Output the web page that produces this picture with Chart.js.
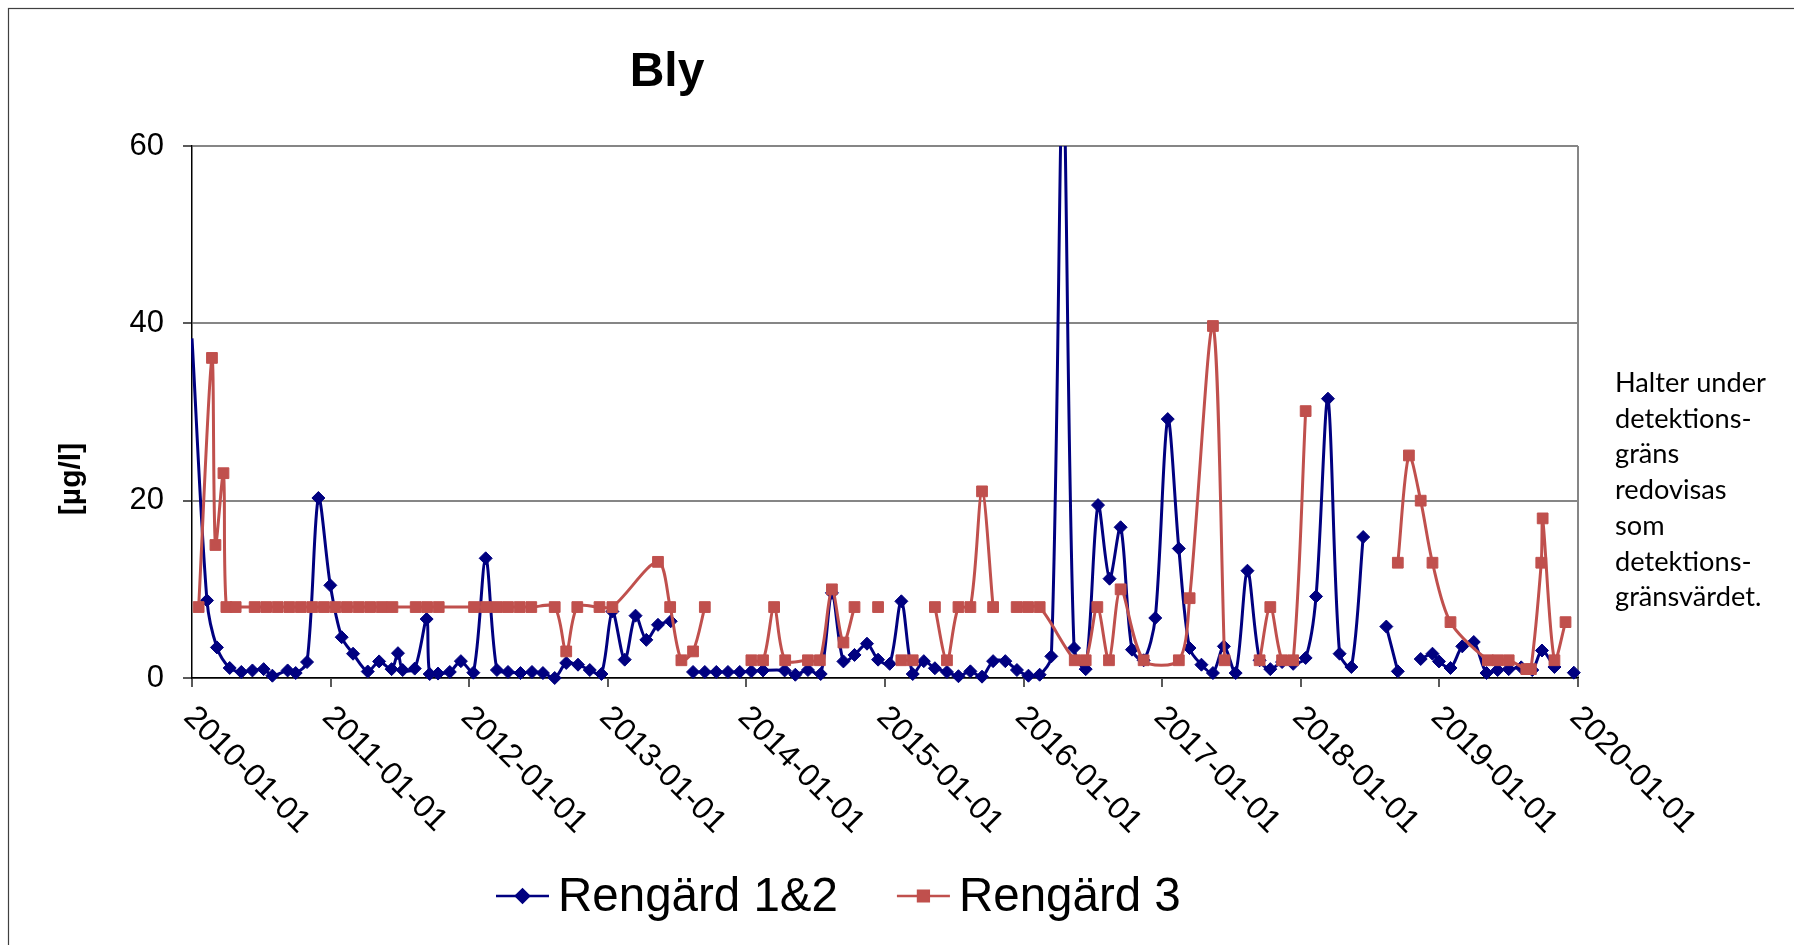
<!DOCTYPE html>
<html>
<head>
<meta charset="utf-8">
<title>Bly</title>
<script src="https://cdn.jsdelivr.net/npm/chart.js@4.4.1/dist/chart.umd.min.js"></script>
<style>
  html, body { margin: 0; padding: 0; background: #fff; }
  canvas { display: block; }
</style>
</head>
<body>
<canvas id="bly-chart" width="1794" height="945"></canvas>
<script>
// sample dates as decimal years, null value = no sample (line is broken there)
const rengard12Dates = [
  2010.000, 2010.108, 2010.180, 2010.272, 2010.356, 2010.436, 2010.517, 2010.580, 2010.690, 2010.748,
  2010.830, 2010.912, 2010.998, 2011.080, 2011.162, 2011.268, 2011.350, 2011.440, 2011.486, 2011.520,
  2011.607, 2011.693, 2011.715, 2011.775, 2011.860, 2011.940, 2012.030, 2012.119, 2012.200, 2012.280,
  2012.370, 2012.453, 2012.532, 2012.617, 2012.700, 2012.785, 2012.870, 2012.954, 2013.033, 2013.122,
  2013.200, 2013.278, 2013.362, 2013.454, 2013.530, 2013.615, 2013.700, 2013.783, 2013.867, 2013.952,
  2014.036, 2014.120, 2014.276, 2014.353, 2014.444, 2014.536, 2014.617, 2014.700, 2014.780, 2014.870,
  2014.950, 2015.034, 2015.118, 2015.200, 2015.280, 2015.360, 2015.447, 2015.530, 2015.616, 2015.700,
  2015.780, 2015.868, 2015.952, 2016.035, 2016.116, 2016.200, 2016.284, 2016.364, 2016.448, 2016.537,
  2016.620, 2016.700, 2016.782, 2016.866, 2016.950, 2017.040, 2017.120, 2017.197, 2017.283, 2017.366,
  2017.445, 2017.530, 2017.615, 2017.703, 2017.780, 2017.865, 2017.945, 2018.035, 2018.110, 2018.196,
  2018.280, 2018.365, 2018.450, 2018.530, 2018.617, 2018.700, 2018.780, 2018.865, 2018.950, 2018.997,
  2019.080, 2019.165, 2019.248, 2019.340, 2019.420, 2019.500, 2019.590, 2019.670, 2019.740, 2019.830,
  2019.900, 2019.970
];
const rengard12Values = [
  38.3, 8.75, 3.45, 1.13, 0.68, 0.85, 1.0, 0.26, 0.85, 0.56,
  1.8, 20.3, 10.45, 4.6, 2.74, 0.73, 1.87, 1.0, 2.8, 0.9,
  1.06, 6.65, 0.45, 0.5, 0.68, 1.9, 0.6, 13.5, 0.9, 0.68,
  0.56, 0.68, 0.56, 0.0, 1.7, 1.5, 0.9, 0.45, 7.5, 2.07,
  7.03, 4.3, 6.0, 6.4, null, 0.68, 0.68, 0.68, 0.68, 0.68,
  0.75, 0.85, 0.85, 0.37, 0.9, 0.45, 9.6, 1.87, 2.6, 3.87,
  2.07, 1.6, 8.65, 0.45, 1.9, 1.1, 0.68, 0.2, 0.75, 0.15,
  1.9, 1.9, 0.9, 0.26, 0.37, 2.44, 68, 3.38, 1.0, 19.5,
  11.2, 17.0, 3.2, 2.0, 6.77, 29.2, 14.6, 3.38, 1.5, 0.56,
  3.57, 0.56, 12.1, 2.0, 1.0, 1.8, 1.6, 2.26, 9.2, 31.5,
  2.74, 1.24, 15.9, null, 5.8, 0.75, null, 2.14, 2.74, 1.87,
  1.13, 3.57, 4.06, 0.56, 0.9, 1.0, 1.2, 0.9, 3.1, 1.24,
  null, 0.6
];

const rengard3Dates = [
  2010.048, 2010.144, 2010.169, 2010.227, 2010.248, 2010.315, 2010.452, 2010.535, 2010.618, 2010.702,
  2010.785, 2010.868, 2010.952, 2011.035, 2011.118, 2011.202, 2011.285, 2011.368, 2011.446, 2011.614,
  2011.696, 2011.780, 2012.035, 2012.119, 2012.200, 2012.280, 2012.364, 2012.448, 2012.617, 2012.700,
  2012.780, 2012.940, 2013.033, 2013.362, 2013.450, 2013.531, 2013.615, 2013.700, 2013.850, 2014.036,
  2014.120, 2014.200, 2014.280, 2014.444, 2014.530, 2014.617, 2014.700, 2014.780, 2014.860, 2014.950,
  2015.030, 2015.118, 2015.200, 2015.280, 2015.360, 2015.447, 2015.530, 2015.616, 2015.700, 2015.780,
  2015.870, 2015.950, 2016.032, 2016.116, 2016.369, 2016.448, 2016.532, 2016.616, 2016.700, 2016.866,
  2017.120, 2017.198, 2017.366, 2017.450, 2017.580, 2017.703, 2017.780, 2017.865, 2017.945, 2018.035,
  2018.400, 2018.700, 2018.780, 2018.865, 2018.950, 2019.080, 2019.350, 2019.420, 2019.500, 2019.627,
  2019.660, 2019.735, 2019.745, 2019.830, 2019.910
];
const rengard3Values = [
  8, 36.1, 15.0, 23.1, 8, 8, 8, 8, 8, 8,
  8, 8, 8, 8, 8, 8, 8, 8, 8, 8,
  8, 8, 8, 8, 8, 8, 8, 8, 8, 3.0,
  8, 8, 8, 13.1, 8, 2.0, 3.0, 8, null, 2,
  2, 8, 2, 2, 2, 10, 4, 8, null, 8,
  null, 2, 2, null, 8, 2, 8, 8, 21.05, 8,
  null, 8, 8, 8, 2, 2, 8, 2, 10, 2,
  2, 9, 39.7, 2, null, 2, 8, 2, 2, 30.1,
  null, 13, 25.1, 20, 13, 6.3, 2, 2, 2, 1.0,
  1.0, 13, 18, 2, 6.3
];

const xTickYears = [2010, 2011, 2012, 2013, 2014, 2015, 2016, 2017, 2018, 2019, 2020];
const xTickLabels = xTickYears.map(y => y + '-01-01');
const yTicks = [0, 20, 40, 60];
const seriesNames = ['Rengärd 1&2', 'Rengärd 3'];
const noteLines = ['Halter under', 'detektions-', 'gräns', 'redovisas', 'som', 'detektions-', 'gränsvärdet.'];

const NAVY = '#000080';
const BRICK = '#C0504D';
const ARIAL = "'Liberation Sans', Arial, sans-serif";

const toPoints = (dates, values) => dates.map((d, i) => ({ x: d, y: values[i] }));

const decorations = {
  id: 'decorations',
  beforeDraw(chart) {
    const ctx = chart.ctx;
    ctx.save();
    ctx.fillStyle = '#fff';
    ctx.fillRect(0, 0, chart.width, chart.height);
    ctx.strokeStyle = '#404040';
    ctx.lineWidth = 1.2;
    ctx.strokeRect(8.5, 8.5, chart.width + 20, chart.height + 20);
    ctx.restore();
  },
  afterDraw(chart) {
    const { ctx, chartArea } = chart;
    const xScale = chart.scales.x;
    ctx.save();
    ctx.fillStyle = '#000';

    // title
    ctx.font = 'bold 48px ' + ARIAL;
    ctx.textAlign = 'center';
    ctx.textBaseline = 'alphabetic';
    ctx.fillText('Bly', 667, 86);

    // y axis title
    ctx.save();
    ctx.translate(72, 479);
    ctx.rotate(-Math.PI / 2);
    ctx.font = 'bold 30px ' + ARIAL;
    ctx.textBaseline = 'middle';
    ctx.fillText('[µg/l]', 0, 0);
    ctx.restore();

    // rotated date labels
    ctx.font = '32px ' + ARIAL;
    ctx.textAlign = 'left';
    ctx.textBaseline = 'top';
    xTickYears.forEach((yr, i) => {
      const px = xScale.getPixelForValue(yr);
      ctx.save();
      ctx.translate(px + 8, chartArea.bottom + 23);
      ctx.rotate(Math.PI / 4);
      ctx.fillText(xTickLabels[i], 0, 0);
      ctx.restore();
    });

    // legend
    ctx.font = '47.5px ' + ARIAL;
    ctx.textBaseline = 'middle';
    let lx = 496;
    const ly = 896;
    chart.data.datasets.forEach((ds, i) => {
      ctx.strokeStyle = ds.borderColor;
      ctx.fillStyle = ds.borderColor;
      ctx.lineWidth = 2.5;
      ctx.beginPath();
      ctx.moveTo(lx, ly);
      ctx.lineTo(lx + 53, ly);
      ctx.stroke();
      Chart.helpers.drawPoint(ctx, { pointStyle: ds.pointStyle, radius: ds.legendRadius, borderWidth: 1, rotation: 0 }, lx + 26.5, ly);
      ctx.fill();
      ctx.fillStyle = '#000';
      ctx.fillText(seriesNames[i], lx + 62, ly + 2);
      lx += 62 + ctx.measureText(seriesNames[i]).width + 59;
    });

    // note on the right
    ctx.font = '100px Lato';
    const fit = 100 * 151 / ctx.measureText(noteLines[0]).width;
    ctx.font = fit.toFixed(1) + 'px Lato';
    ctx.textBaseline = 'alphabetic';
    noteLines.forEach((t, i) => ctx.fillText(t, 1615, 392 + i * 35.7));

    ctx.restore();
  }
};

new Chart(document.getElementById('bly-chart'), {
  type: 'line',
  data: {
    datasets: [
      {
        label: seriesNames[0],
        data: toPoints(rengard12Dates, rengard12Values),
        borderColor: NAVY,
        backgroundColor: NAVY,
        borderWidth: 3,
        pointStyle: 'rectRot',
        pointRadius: c => (c.dataIndex === 0 ? 0 : 6.5),
        pointBorderWidth: 1,
        pointBackgroundColor: NAVY,
        pointBorderColor: NAVY,
        legendRadius: 6.5,
        tension: 0.3,
        spanGaps: false,
        order: 2,
        clip: { left: 1, top: 0, right: 10, bottom: 10 }
      },
      {
        label: seriesNames[1],
        data: toPoints(rengard3Dates, rengard3Values),
        borderColor: BRICK,
        backgroundColor: BRICK,
        borderWidth: 3,
        pointStyle: 'rect',
        pointRadius: 7.6,
        pointBorderWidth: 1,
        pointBackgroundColor: BRICK,
        pointBorderColor: BRICK,
        legendRadius: 7.6,
        tension: 0.3,
        spanGaps: false,
        order: 1,
        clip: { left: 1, top: 0, right: 10, bottom: 10 }
      }
    ]
  },
  options: {
    responsive: false,
    animation: false,
    devicePixelRatio: 1,
    layout: { padding: { left: 0, top: 146, right: 216, bottom: 0 } },
    plugins: {
      legend: { display: false },
      title: { display: false },
      tooltip: { enabled: false }
    },
    scales: {
      x: {
        type: 'linear',
        min: 2010,
        max: 2020,
        afterBuildTicks: s => { s.ticks = xTickYears.map(v => ({ value: v })); },
        afterFit: s => { s.height = 267; },
        ticks: { display: false },
        grid: {
          color: c => (c.tick && c.tick.value === 2020 ? '#868686' : 'rgba(0,0,0,0)'),
          lineWidth: 2,
          tickColor: '#000',
          tickLength: 9,
          tickWidth: 1.3
        },
        border: { color: '#000', width: 1.5 }
      },
      y: {
        min: 0,
        max: 60,
        afterBuildTicks: s => { s.ticks = yTicks.map(v => ({ value: v })); },
        afterFit: s => { s.width = 192; },
        ticks: { color: '#000', font: { family: ARIAL, size: 31 }, padding: 19 },
        grid: {
          color: '#868686',
          lineWidth: 2,
          tickColor: '#000',
          tickLength: 9,
          tickWidth: 1.3
        },
        border: { color: '#000', width: 1.5 }
      }
    }
  },
  plugins: [decorations]
});
</script>
</body>
</html>
